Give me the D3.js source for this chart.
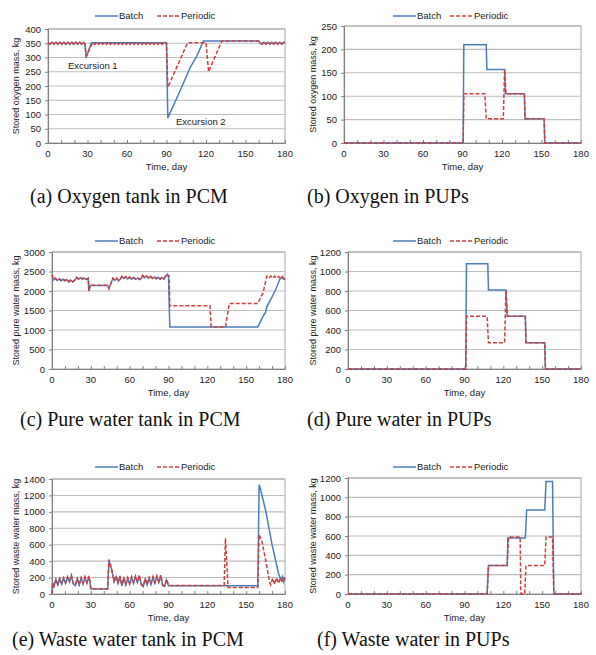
<!DOCTYPE html>
<html><head><meta charset="utf-8">
<script src="https://cdn.jsdelivr.net/npm/d3@7"></script>
<style>body{margin:0;background:#fff}svg{display:block}</style>
</head><body>
<script>
const xTickLabels=[0,30,60,90,120,150,180];
const seriesNames=["Batch","Periodic"];

// (a) Oxygen tank in PCM
const aBatch=[[0,350],[1.5,346],[3,354],[4.5,346],[6,354],[7.5,346],[9,354],[10.5,346],[12,354],[13.5,346],[15,354],[16.5,346],[18,354],[19.5,346],[21,354],[22.5,346],[24,354],[25.5,346],[27,353],[28,348],[29,300],[33,352],[90,352],[91,88],[100,180],[108,265],[113,305],[118,358],[160,358],[161,352],[162.5,346],[164,354],[165.5,346],[167,354],[168.5,346],[170,354],[171.5,346],[173,354],[174.5,346],[176,354],[177.5,346],[179,354],[180,350]];
const aPeriodic=[[0,352],[1.5,347],[3,355],[4.5,347],[6,355],[7.5,347],[9,355],[10.5,347],[12,355],[13.5,347],[15,355],[16.5,347],[18,355],[19.5,347],[21,355],[22.5,347],[24,355],[25.5,347],[27,354],[28,348],[29,305],[34,352],[35.5,346],[37,354],[38.5,346],[40,354],[41.5,346],[43,354],[44.5,346],[46,354],[47.5,346],[49,354],[50.5,346],[52,354],[53.5,346],[55,354],[56.5,346],[58,354],[59.5,346],[61,354],[62.5,346],[64,354],[65.5,346],[67,354],[68.5,346],[70,354],[71.5,346],[73,354],[74.5,346],[76,354],[77.5,346],[79,354],[80.5,346],[82,354],[83.5,346],[85,354],[86.5,346],[88,354],[89.5,352],[90,350],[91,195],[106,352],[120,352],[121,300],[122,250],[132,358],[160,358],[161,352],[162.5,347],[164,355],[165.5,347],[167,355],[168.5,347],[170,355],[171.5,347],[173,355],[174.5,347],[176,355],[177.5,347],[179,355],[180,351]];

// (b) Oxygen in PUPs
const bBatch=[[0,0],[90.5,0],[91,210],[108,210],[108.5,157],[122,157],[122.5,105],[137,105],[137.5,52],[152,52],[152.5,0],[180,0]];
const bPeriodic=[[0,0],[90.5,0],[91,105],[107,105],[108,52],[121,52],[122,157],[123,105],[137,105],[137.5,52],[152,52],[152.5,0],[180,0]];

// (c) Pure water tank in PCM
const cBatch=[[0,2400],[1,2280],[2.5,2320],[4,2270],[5.5,2310],[7,2260],[8.5,2300],[10,2260],[11.5,2290],[13,2230],[14.5,2280],[16,2230],[17.5,2270],[19,2340],[20.5,2300],[22,2340],[23.5,2300],[25,2330],[26.5,2290],[28,2320],[28.5,2000],[29.5,2140],[43,2140],[44,2070],[47,2320],[48.5,2270],[50,2320],[51.5,2260],[53,2310],[54,2370],[55.5,2320],[57,2360],[58.5,2310],[60,2350],[61.5,2300],[63,2340],[64.5,2300],[66,2330],[67.5,2290],[69,2320],[70,2390],[71.5,2340],[73,2380],[74.5,2330],[76,2370],[77.5,2320],[79,2360],[80.5,2310],[82,2350],[83.5,2300],[85,2340],[86.5,2300],[88,2390],[89,2420],[90,2360],[91,1080],[159,1080],[163,1350],[165,1450],[166,1600],[170,1850],[173,2050],[176,2300],[177.5,2350],[179,2300],[180,2320]];
const cPeriodic=[[0,2420],[1,2300],[2.5,2330],[4,2280],[5.5,2320],[7,2270],[8.5,2310],[10,2270],[11.5,2300],[13,2240],[14.5,2290],[16,2240],[17.5,2280],[19,2350],[20.5,2310],[22,2350],[23.5,2310],[25,2340],[26.5,2300],[28,2330],[28.5,1990],[29.5,2150],[43,2150],[44,2060],[47,2330],[48.5,2280],[50,2330],[51.5,2270],[53,2320],[54,2380],[55.5,2330],[57,2370],[58.5,2320],[60,2360],[61.5,2310],[63,2350],[64.5,2310],[66,2340],[67.5,2300],[69,2330],[70,2400],[71.5,2350],[73,2390],[74.5,2340],[76,2380],[77.5,2330],[79,2370],[80.5,2320],[82,2360],[83.5,2310],[85,2350],[86.5,2310],[88,2400],[89,2430],[90.5,2380],[91,1620],[122,1620],[123,1080],[134,1080],[137,1680],[159,1680],[163,1950],[166,2380],[167.5,2330],[169,2380],[170.5,2330],[172,2380],[173.5,2330],[175,2370],[176.5,2320],[178,2370],[179.5,2310],[180,2340]];

// (d) Pure water in PUPs
const dBatch=[[0,0],[91,0],[91.5,1080],[108,1080],[108.5,810],[122,810],[123,540],[137,540],[137.5,270],[152,270],[152.5,0],[180,0]];
const dPeriodic=[[0,0],[91,0],[91.5,540],[107.5,540],[108.5,270],[121,270],[122,810],[123,540],[137,540],[137.5,270],[152,270],[152.5,0],[180,0]];

// (e) Waste water tank in PCM
const eBatch=[[0,0],[0.5,130],[1.5,90],[3,170],[4.5,110],[6,180],[7.5,120],[9,190],[10.5,130],[12,200],[13.5,150],[15,220],[16.5,120],[18,100],[19.5,180],[21,110],[22.5,190],[24,120],[25.5,200],[27,130],[28.5,210],[29.5,130],[30,60],[43,60],[44,410],[46,300],[48,150],[49.5,210],[51,130],[52.5,210],[54,100],[55.5,190],[57,110],[58.5,190],[60,120],[61.5,200],[63,130],[64.5,210],[66,140],[67.5,220],[69,110],[70.5,90],[72,180],[73.5,110],[75,190],[76.5,120],[78,200],[79.5,130],[81,210],[82.5,140],[84,220],[85.5,100],[87,90],[88.5,170],[90,100],[159,100],[160,1330],[161,1280],[165,1020],[170,600],[175,250],[177,170],[178,210],[179,150],[180,200]];
const ePeriodic=[[0,0],[0.5,140],[1.5,100],[3,180],[4.5,120],[6,190],[7.5,130],[9,200],[10.5,140],[12,210],[13.5,160],[15,230],[16.5,130],[18,110],[19.5,190],[21,120],[22.5,200],[24,130],[25.5,210],[27,140],[28.5,220],[29.5,140],[30,65],[43,65],[44,420],[46,310],[48,160],[49.5,220],[51,140],[52.5,220],[54,110],[55.5,200],[57,120],[58.5,200],[60,130],[61.5,210],[63,140],[64.5,220],[66,150],[67.5,230],[69,120],[70.5,100],[72,190],[73.5,120],[75,200],[76.5,130],[78,210],[79.5,140],[81,220],[82.5,150],[84,230],[85.5,110],[87,100],[88.5,180],[90,105],[133,105],[134,680],[136,80],[159,80],[160,720],[162,650],[165,420],[168,150],[169,110],[170.5,190],[172,120],[173.5,200],[175,130],[176.5,200],[178,140],[179.5,210],[180,180]];

// (f) Waste water in PUPs
const fBatch=[[0,0],[107.5,0],[108.5,295],[123,295],[123.5,580],[137,580],[138,870],[152,870],[153,1165],[158,1165],[159,0],[180,0]];
const fPeriodic=[[0,0],[107.5,0],[108.5,295],[123,295],[124,590],[133,590],[133.5,0],[136.5,0],[137.5,295],[152,295],[153,590],[158,590],[159,0],[180,0]];

const W=596,H=655;
const svg=d3.select("body").append("svg").attr("width",W).attr("height",H);
const sans="'Liberation Sans', Arial, sans-serif";
const serif="'Liberation Serif', 'Times New Roman', serif";
const blue="#4a7ebb", red="#cf3e3e";

const panels=[
 {l:48,r:285,t:29,b:143,ymax:400,ystep:50,ytitle:"Stored oxygen mass, kg",yt:16,data:[aBatch,aPeriodic],legY:16,legX:95,legX2:157,cap:"(a) Oxygen tank in PCM",capX:30,capY:203,
  notes:[{t:"Excursion 1",x:68,y:69},{t:"Excursion 2",x:176,y:125}]},
 {l:344,r:581,t:26,b:143,ymax:250,ystep:50,ytitle:"Stored oxygen mass, kg",yt:313,data:[bBatch,bPeriodic],legY:16,legX:393,legX2:450,cap:"(b) Oxygen in PUPs",capX:307,capY:203},
 {l:52,r:285,t:252,b:369,ymax:3000,ystep:500,ytitle:"Stored pure water mass, kg",yt:16,data:[cBatch,cPeriodic],legY:241,legX:95,legX2:157,cap:"(c) Pure water tank in PCM",capX:20,capY:426},
 {l:348,r:581,t:252,b:369,ymax:1200,ystep:200,ytitle:"Stored pure water mass, kg",yt:313,data:[dBatch,dPeriodic],legY:241,legX:393,legX2:450,cap:"(d) Pure water in PUPs",capX:307,capY:426},
 {l:52,r:285,t:479,b:594,ymax:1400,ystep:200,ytitle:"Stored waste water mass, kg",yt:16,data:[eBatch,ePeriodic],legY:467,legX:95,legX2:157,cap:"(e) Waste water tank in PCM",capX:12,capY:646},
 {l:348,r:581,t:478,b:594,ymax:1200,ystep:200,ytitle:"Stored waste water mass, kg",yt:313,data:[fBatch,fPeriodic],legY:467,legX:393,legX2:450,cap:"(f) Waste water in PUPs",capX:317,capY:646}
];

panels.forEach(p=>{
  const g=svg.append("g");
  const x=d3.scaleLinear().domain([0,180]).range([p.l,p.r]);
  const y=d3.scaleLinear().domain([0,p.ymax]).range([p.b,p.t]);
  const yt=d3.range(0,p.ymax+1e-9,p.ystep);
  // gridlines
  g.selectAll(".grid").data(yt.slice(1)).enter().append("line")
   .attr("x1",p.l).attr("x2",p.r).attr("y1",d=>y(d)).attr("y2",d=>y(d))
   .attr("stroke","#bdbdbd").attr("stroke-width",1.1);
  // border
  g.append("rect").attr("x",p.l).attr("y",p.t).attr("width",p.r-p.l).attr("height",p.b-p.t)
   .attr("fill","none").attr("stroke","#a6a6a6").attr("stroke-width",1);
  // y axis
  const ya=d3.axisLeft(y).tickValues(yt).tickSize(3).tickFormat(d3.format("d"));
  const yg=g.append("g").attr("transform",`translate(${p.l},0)`).call(ya);
  yg.select(".domain").attr("stroke","#808080");
  yg.selectAll(".tick line").attr("stroke","#808080");
  yg.selectAll("text").attr("font-family",sans).attr("font-size",9.5).attr("fill","#222").attr("dx",-1);
  // x axis minor ticks (inward)
  const xa=d3.axisBottom(x).tickValues(d3.range(0,181,10)).tickSize(-3).tickFormat("");
  const xg=g.append("g").attr("transform",`translate(0,${p.b})`).call(xa);
  xg.select(".domain").attr("stroke","#808080");
  xg.selectAll(".tick line").attr("stroke","#808080");
  // x labels
  g.selectAll(".xl").data(xTickLabels).enter().append("text")
   .attr("x",d=>x(d)).attr("y",p.b+14).attr("text-anchor","middle")
   .attr("font-family",sans).attr("font-size",9.5).attr("fill","#222").text(d=>d);
  g.append("text").attr("x",(p.l+p.r)/2).attr("y",p.b+27).attr("text-anchor","middle")
   .attr("font-family",sans).attr("font-size",9.5).attr("fill","#222").text("Time, day");
  // y title
  g.append("text").attr("transform",`translate(${p.yt},${(p.t+p.b)/2}) rotate(-90)`)
   .attr("text-anchor","middle").attr("dy","0.35em")
   .attr("font-family",sans).attr("font-size",9).attr("fill","#222").text(p.ytitle);
  // lines
  const line=d3.line().x(d=>x(d[0])).y(d=>y(d[1]));
  g.append("path").datum(p.data[0]).attr("d",line).attr("fill","none")
   .attr("stroke",blue).attr("stroke-width",1.5);
  g.append("path").datum(p.data[1]).attr("d",line).attr("fill","none")
   .attr("stroke",red).attr("stroke-width",1.5).attr("stroke-dasharray","4,2");
  // legend
  const lg=g.append("g");
  [[p.legX,blue,null],[p.legX2,red,"4,2"]].forEach((c,i)=>{
    lg.append("line").attr("x1",c[0]).attr("x2",c[0]+23).attr("y1",p.legY).attr("y2",p.legY)
      .attr("stroke",c[1]).attr("stroke-width",1.5).attr("stroke-dasharray",c[2]);
    lg.append("text").attr("x",c[0]+24).attr("y",p.legY).attr("dy","0.35em")
      .attr("font-family",sans).attr("font-size",9.5).attr("fill","#222").text(seriesNames[i]);
  });
  // notes
  (p.notes||[]).forEach(n=>{
    g.append("text").attr("x",n.x).attr("y",n.y).attr("font-family",sans).attr("font-size",9.5)
     .attr("fill","#222").text(n.t);
  });
  // caption
  g.append("text").attr("x",p.capX).attr("y",p.capY).attr("font-family",serif)
   .attr("font-size",20).attr("fill","#111").text(p.cap);
});
</script>
</body></html>
